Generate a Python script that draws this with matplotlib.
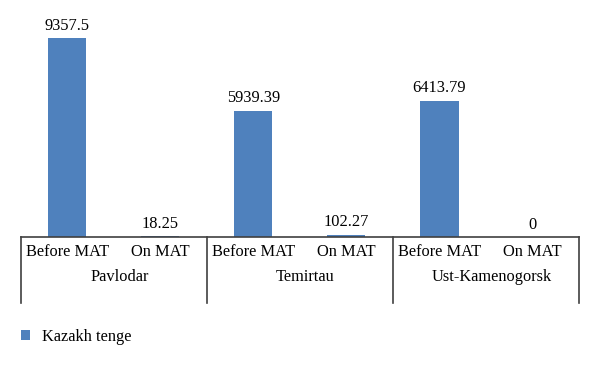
import matplotlib
matplotlib.use('Agg')
import matplotlib.pyplot as plt
import matplotlib.transforms as mtransforms
from matplotlib.patches import Patch

# data
cities = ['Pavlodar', 'Temirtau', 'Ust-Kamenogorsk']
phases = ['Before MAT', 'On MAT']
values = [9357.5, 18.25, 5939.39, 102.27, 6413.79, 0]
value_labels = ['9357.5', '18.25', '5939.39', '102.27', '6413.79', '0']
series_name = 'Kazakh tenge'

bar_color = '#4F81BD'
line_color = '#404040'
plt.rcParams['font.family'] = ['Liberation Serif', 'DejaVu Serif']
fs = 11.8

W, H = 600, 367
fig = plt.figure(figsize=(W / 100, H / 100), dpi=100)
left, right, base, top = 20.7, 579, 236.7, 24.4
ax = fig.add_axes([left / W, (H - base) / H, (right - left) / W, (base - top) / H])

x = list(range(len(values)))
bars = ax.bar(x, values, width=0.41, color=bar_color)
ax.bar_label(bars, labels=value_labels, padding=3, fontsize=fs)

ax.set_xlim(-0.5, len(values) - 0.5)
ax.set_ylim(0, 10000)
ax.set_xticks([])
ax.set_yticks([])
for s in ['left', 'right', 'top']:
    ax.spines[s].set_visible(False)
ax.spines['bottom'].set_color(line_color)
ax.spines['bottom'].set_linewidth(1.2)

# two-level category axis
axh = base - top
trans = mtransforms.blended_transform_factory(ax.transData, ax.transAxes)
for i in x:
    ax.text(i, -15 / axh, phases[i % 2], transform=trans, ha='center', va='center', fontsize=fs)
for g, city in enumerate(cities):
    ax.text(2 * g + 0.5 + 0.06, -40.6 / axh, city, transform=trans, ha='center', va='center', fontsize=fs)
for sep in [-0.5, 1.5, 3.5, 5.5]:
    ax.plot([sep, sep], [0, -66 / axh], transform=trans, color=line_color, lw=1.2, clip_on=False)

fig.legend(handles=[Patch(facecolor=bar_color, label=series_name)], loc='center left',
           bbox_to_anchor=(left / W, (H - 337) / H), frameon=False, fontsize=fs,
           handlelength=0.58, handleheight=0.58, handletextpad=0.75,
           borderpad=0, borderaxespad=0)

fig.savefig('out.png', dpi=100)
